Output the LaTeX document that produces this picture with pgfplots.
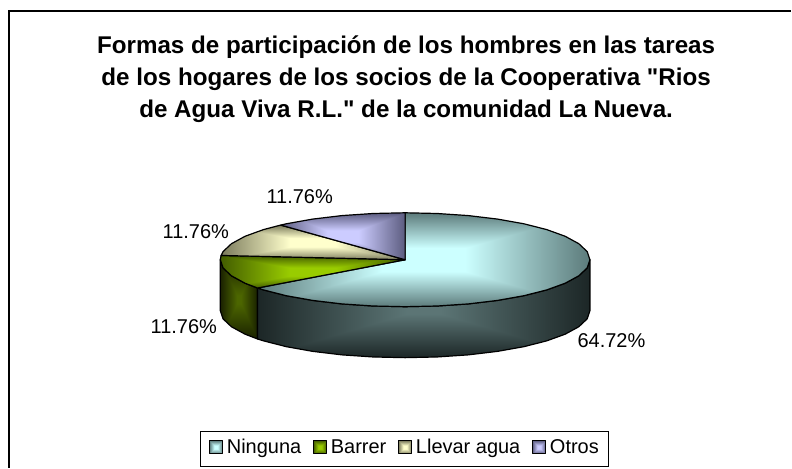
\documentclass[border=0pt]{standalone}
\usepackage{pgfplots}
\pgfplotsset{compat=1.18}
\usepackage{fontspec}
\setmainfont{Liberation Sans}[Ligatures=TeXOff]
\newcommand\rectshade[8]{%
  \pgfdeclarefunctionalshading{#1}{\pgfpoint{-50bp}{-50bp}}{\pgfpoint{50bp}{50bp}}{}{%
    abs exch abs 2 copy lt {exch} if pop 25 div
    dup 1 gt {pop 1} if
    #8 sub 0 2 copy lt {exch} if pop 1 #8 sub div
    dup #5 #2 sub mul #2 add exch
    dup #6 #3 sub mul #3 add exch
    #7 #4 sub mul #4 add
  }%
}
% inner r g b, outer r g b, plateau
\rectshade{topN}{0.80}{1.00}{1.00}{0.36}{0.48}{0.48}{0.25}
\rectshade{topB}{0.60}{0.80}{0.00}{0.26}{0.36}{0.00}{0.25}
\rectshade{topL}{1.00}{1.00}{0.80}{0.48}{0.48}{0.36}{0.25}
\rectshade{topO}{0.80}{0.80}{1.00}{0.36}{0.36}{0.50}{0.25}
\rectshade{sideN}{0.36}{0.46}{0.46}{0.11}{0.15}{0.15}{0.10}
\rectshade{sideB}{0.30}{0.40}{0.00}{0.10}{0.13}{0.00}{0.10}
\begin{document}
\begin{tikzpicture}
\begin{axis}[
  at={(0pt,0pt)}, anchor=south west,
  scale only axis, width=792pt, height=468pt,
  xmin=0, xmax=792, ymin=0, ymax=468,
  hide axis, clip=false,
  legend columns=4,
  legend cell align=left,
  legend style={at={(axis cs:209,18.7)}, anchor=west, draw=none, fill=none, inner sep=0pt, font=\fontsize{20}{22}\selectfont,
    nodes={text depth=.22em, text height=.75em},
    /tikz/every even column/.append style={column sep=9.7pt},
    /tikz/every odd column/.append style={column sep=2pt}},
]
% side faces
\addplot[forget plot, shade, shading=sideB, draw=black, line width=1.2pt, line join=round] coordinates {
(257.8,179.7)(245.3,184.5)(231.7,191.9)(223.3,199.8)(220.5,208)
(220.5,157)(223.3,148.8)(231.7,140.9)(245.3,133.5)(257.8,128.7)} -- cycle;
\addplot[forget plot, shade, shading=sideN, draw=black, line width=1.2pt, line join=round] coordinates {
(590.5,208)(587.7,199.8)(579.3,191.9)(565.7,184.5)(547.2,177.8)(524.4,172)(498,167.3)(468.8,163.8)(437.6,161.7)(405.5,161)(373.4,161.7)(342.2,163.8)(313,167.3)(286.6,172)(263.8,177.8)(257.8,179.7)
(257.8,128.7)(263.8,126.8)(286.6,121)(313,116.3)(342.2,112.8)(373.4,110.7)(405.5,110)(437.6,110.7)(468.8,112.8)(498,116.3)(524.4,121)(547.2,126.8)(565.7,133.5)(579.3,140.9)(587.7,148.8)(590.5,157)} -- cycle;
% top faces
\addplot[shade, shading=topN, draw=black, line width=1.2pt, line join=round,
  legend image code/.code={\draw[shading=topN, draw=black, line width=0.9pt] (0pt,-3pt) rectangle (13pt,10pt);}] coordinates {
(405.5,208)(405.5,255)(437.6,254.3)(468.8,252.2)(498,248.7)(524.4,244)(547.2,238.2)(565.7,231.5)(579.3,224.1)(587.7,216.2)(590.5,208)(587.7,199.8)(579.3,191.9)(565.7,184.5)(547.2,177.8)(524.4,172)(498,167.3)(468.8,163.8)(437.6,161.7)(405.5,161)(373.4,161.7)(342.2,163.8)(313,167.3)(286.6,172)(263.8,177.8)(257.8,179.7)} -- cycle;
\addlegendentry{Ninguna}
\addplot[shade, shading=topB, draw=black, line width=1.2pt, line join=round,
  legend image code/.code={\draw[shading=topB, draw=black, line width=0.9pt] (0pt,-3pt) rectangle (13pt,10pt);}] coordinates {
(405.5,208)(257.8,179.7)(245.3,184.5)(231.7,191.9)(223.3,199.8)(220.5,208)(221.3,212.3)} -- cycle;
\addlegendentry{Barrer}
\addplot[shade, shading=topL, draw=black, line width=1.2pt, line join=round,
  legend image code/.code={\draw[shading=topL, draw=black, line width=0.9pt] (0pt,-3pt) rectangle (13pt,10pt);}] coordinates {
(405.5,208)(221.3,212.3)(223.3,216.2)(231.7,224.1)(245.3,231.5)(263.8,238.2)(280.9,242.7)} -- cycle;
\addlegendentry{Llevar agua}
\addplot[shade, shading=topO, draw=black, line width=1.2pt, line join=round,
  legend image code/.code={\draw[shading=topO, draw=black, line width=0.9pt] (0pt,-3pt) rectangle (13pt,10pt);}] coordinates {
(405.5,208)(280.9,242.7)(286.6,244)(313,248.7)(342.2,252.2)(373.4,254.3)(405.5,255)} -- cycle;
\addlegendentry{Otros}
% percentages
\node[font=\fontsize{20}{22}\selectfont] at (axis cs:612,127) {64.72\%};
\node[font=\fontsize{20}{22}\selectfont] at (axis cs:184,141) {11.76\%};
\node[font=\fontsize{20}{22}\selectfont] at (axis cs:196,236) {11.76\%};
\node[font=\fontsize{20}{22}\selectfont] at (axis cs:300,271) {11.76\%};
% title
\node[font=\fontsize{24.2}{32}\selectfont\bfseries, align=center] at (axis cs:406.5,389) {Formas de participación de los hombres en las tareas\\de los hogares de los socios de la Cooperativa "Rios\\de Agua Viva R.L." de la comunidad La Nueva.};
% frames
\draw[black, line width=1pt] (axis cs:200.7,1) rectangle (axis cs:609,36);
\draw[black, line width=1.5pt] (axis cs:9,0) -- (axis cs:9,457) -- (axis cs:792,457);
\path (axis cs:0,0) rectangle (axis cs:792,468);
\end{axis}
\end{tikzpicture}
\end{document}
